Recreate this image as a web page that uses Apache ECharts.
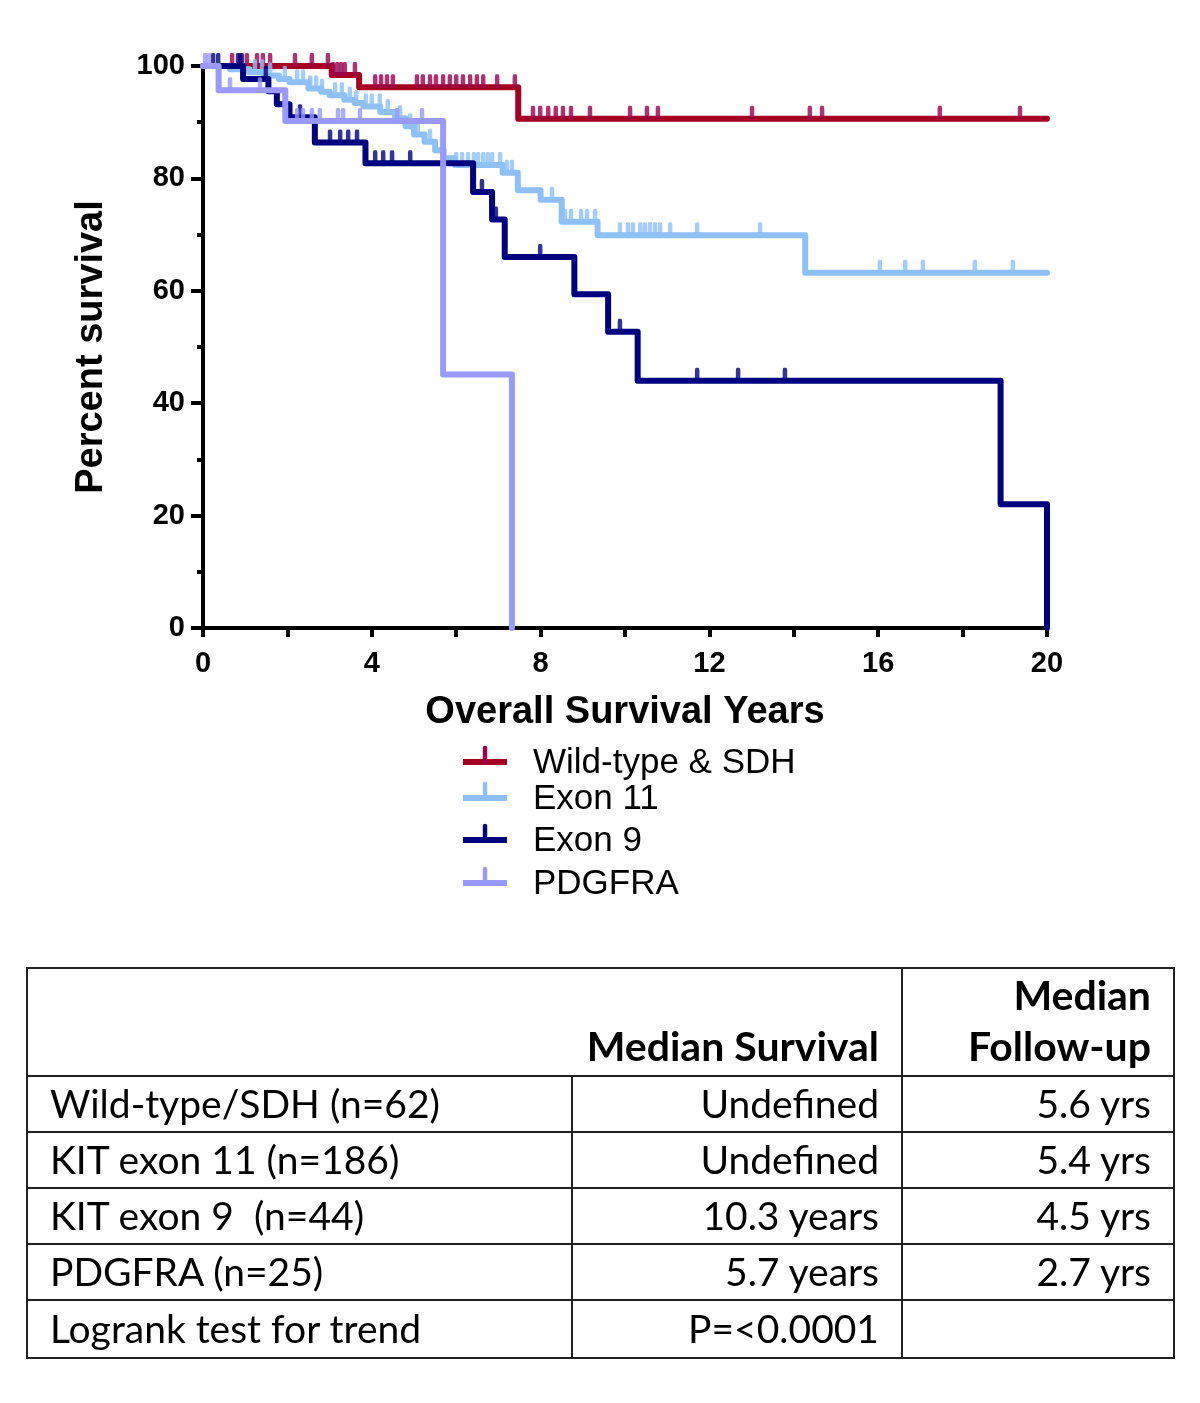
<!DOCTYPE html>
<html>
<head>
<meta charset="utf-8">
<script src="https://cdn.jsdelivr.net/npm/echarts@6/dist/echarts.min.js"></script>
<style>
html,body{margin:0;padding:0;background:#fff;}
#chart{position:absolute;left:0;top:0;width:1200px;height:1403px;}
#tbl{position:absolute;left:26px;top:967px;width:1147px;border-collapse:collapse;font-family:Lato,'Open Sans',sans-serif;font-size:39px;color:#000;table-layout:fixed;}
#tbl td,#tbl th{border:2px solid #222;padding:0 22px;line-height:1.1;white-space:nowrap;}
#tbl th{font-weight:bold;font-size:41px;text-align:right;vertical-align:bottom;padding-bottom:3px;line-height:1.25;}
#tbl td{height:54px;}
#tbl td.num{text-align:right;}
</style>
</head>
<body>
<div id="chart"></div>
<table id="tbl"></table>
<script>
// ---- data ----
const xTickLabels = [0, 4, 8, 12, 16, 20];
const yTickLabels = [0, 20, 40, 60, 80, 100];

const groupNames = ['Wild-type & SDH', 'Exon 11', 'Exon 9', 'PDGFRA'];

// Kaplan-Meier steps: [time (years), percent survival after event]
const wildTypeSteps = [[0,100],[3.05,98.4],[3.7,96.2],[7.47,90.6],[20,90.6]];
const exon11Steps = [[0,100],[0.64,99.4],[1.1,98.9],[1.45,98.3],[1.8,97.7],[2.05,97.1],[2.5,96.0],[2.8,95.4],[3.0,94.8],[3.35,94.0],[3.6,93.4],[3.8,92.8],[4.2,91.8],[4.55,90.7],[4.8,89.3],[5.0,87.8],[5.25,86.5],[5.5,85.0],[5.7,83.6],[5.97,82.4],[7.1,81.0],[7.46,77.9],[8.0,76.2],[8.5,72.3],[9.35,69.9],[14.27,63.2],[20,63.2]];
const exon9Steps = [[0,100],[0.95,97.7],[1.55,95.5],[1.75,93.2],[2.05,90.9],[2.65,86.4],[3.85,82.7],[6.4,77.6],[6.85,72.7],[7.15,66.0],[8.8,59.4],[9.6,52.7],[10.3,44.0],[18.9,22.0],[20,0]];
const pdgfraSteps = [[0,100],[0.37,95.7],[1.95,90.2],[5.69,45.1],[7.32,0]];

// censored observation times (years)
const wildTypeCensored = [0.69,0.88,1.04,1.28,1.42,1.59,2.18,2.58,2.96,3.08,3.18,3.27,3.36,3.60,4.08,4.22,4.36,4.50,5.07,5.21,5.38,5.52,5.69,5.85,6.00,6.16,6.33,6.49,6.64,6.97,7.39,7.82,7.99,8.18,8.36,8.53,8.72,9.17,10.12,10.52,10.78,13.01,14.38,14.67,17.46,19.36];
const exon11Censored = [1.23,1.40,1.59,1.94,2.23,2.37,2.54,2.68,2.82,3.13,3.29,3.48,3.63,3.86,4.00,4.19,4.38,4.67,4.91,5.09,5.38,6.00,6.14,6.28,6.42,6.52,6.64,6.75,6.85,7.04,7.20,7.32,8.27,8.58,8.72,8.96,9.10,9.29,9.88,10.07,10.19,10.36,10.47,10.59,10.71,10.83,11.07,11.71,13.20,16.04,16.64,17.06,18.29,19.19];
const exon9Censored = [0.24,0.36,0.83,0.92,1.49,2.30,3.01,3.25,3.44,3.65,4.08,4.27,4.48,4.91,6.61,6.94,7.99,9.88,11.71,12.68,13.79];
const pdgfraCensored = [0.05,0.14,0.64,1.35,2.23,2.37,2.58,2.77,3.20,3.32,3.72,4.60,5.19];

// table
const tableHeader = ['', 'Median Survival', 'Median<br>Follow-up'];
const tableLabels = ['Wild-type/SDH (n=62)', 'KIT exon 11 (n=186)', 'KIT exon 9&nbsp; (n=44)', 'PDGFRA (n=25)', 'Logrank test for trend'];
const tableMedianSurvival = ['Undefined', 'Undefined', '10.3 years', '5.7 years', 'P=&lt;0.0001'];
const tableFollowUp = ['5.6 yrs', '5.4 yrs', '4.5 yrs', '2.7 yrs', ''];

// ---- styling ----
const lineColors = ['#A50021', '#8EC0F6', '#000080', '#9999FF'];
const tickColors = ['#9B0050', '#8EC0F6', '#000080', '#9999FF'];

function survAt(steps, t) {
  let s = steps[0][1];
  for (const p of steps) { if (p[0] <= t) s = p[1]; else break; }
  return s;
}

const allSteps = [wildTypeSteps, exon11Steps, exon9Steps, pdgfraSteps];
const allCens = [wildTypeCensored, exon11Censored, exon9Censored, pdgfraCensored];

const series = [];
allSteps.forEach((steps, i) => {
  series.push({
    name: groupNames[i], type: 'line', step: 'end', data: steps,
    showSymbol: false, clip: false, z: 2 + i * 2,
    lineStyle: { color: lineColors[i], width: 6, cap: 'round', join: 'round' },
    itemStyle: { color: lineColors[i] }
  });
  series.push({
    name: groupNames[i] + ' censored', type: 'scatter',
    data: allCens[i].map(t => [t, survAt(steps, t)]),
    symbol: 'roundRect', symbolSize: [4.5, 14], symbolOffset: [0, -6],
    clip: false, z: 3 + i * 2,
    itemStyle: { color: tickColors[i] }
  });
});

// legend drawn as graphic
const legendRows = [762, 798, 840, 883];
const legendGraphics = [];
groupNames.forEach((n, i) => {
  const y = legendRows[i];
  legendGraphics.push({ type: 'line', shape: { x1: 463, y1: y, x2: 507, y2: y }, style: { stroke: lineColors[i], lineWidth: 6 } });
  legendGraphics.push({ type: 'line', shape: { x1: 485, y1: y - 14, x2: 485, y2: y }, style: { stroke: tickColors[i], lineWidth: 4.5, lineCap: 'round' } });
  legendGraphics.push({ type: 'text', x: 533, y: y + 1, style: { text: n, font: '35px "Liberation Sans", Arial, sans-serif', fill: '#000', textVerticalAlign: 'middle' } });
});

const fontFam = '"Liberation Sans", Arial, sans-serif';

const chart = echarts.init(document.getElementById('chart'), null, { renderer: 'canvas' });
chart.setOption({
  animation: false,
  backgroundColor: '#fff',
  grid: { left: 203, top: 66, width: 844, height: 562, containLabel: false },
  xAxis: {
    type: 'value', min: 0, max: 20, interval: 4,
    axisLine: { show: true, onZero: false, lineStyle: { color: '#000', width: 4 } },
    axisTick: { show: true, length: 9, lineStyle: { color: '#000', width: 4 } },
    minorTick: { show: true, splitNumber: 2, length: 9, lineStyle: { color: '#000', width: 4 } },
    splitLine: { show: false },
    axisLabel: { margin: 21, fontSize: 29, fontWeight: 'bold', color: '#000', fontFamily: fontFam, formatter: v => xTickLabels.includes(v) ? String(v) : '' },
    name: 'Overall Survival Years', nameLocation: 'middle', nameGap: 66,
    nameTextStyle: { fontSize: 38, fontWeight: 'bold', color: '#000', fontFamily: fontFam }
  },
  yAxis: {
    type: 'value', min: 0, max: 100, interval: 20,
    axisLine: { show: true, onZero: false, lineStyle: { color: '#000', width: 4 } },
    axisTick: { show: true, length: 12, lineStyle: { color: '#000', width: 4 } },
    minorTick: { show: true, splitNumber: 2, length: 6, lineStyle: { color: '#000', width: 4 } },
    splitLine: { show: false },
    axisLabel: { margin: 18, fontSize: 29, fontWeight: 'bold', color: '#000', fontFamily: fontFam, formatter: v => yTickLabels.includes(v) ? String(v) : '' },
    name: 'Percent survival', nameLocation: 'middle', nameGap: 92,
    nameTextStyle: { fontSize: 38, fontWeight: 'bold', color: '#000', fontFamily: fontFam }
  },
  graphic: legendGraphics,
  series: series
});

// build the table
const tbl = document.getElementById('tbl');
let html = '<colgroup><col style="width:545px"><col style="width:330px"><col style="width:272px"></colgroup>';
html += '<tr><th colspan="2" style="height:100px">' + tableHeader[1] + '</th><th>' + tableHeader[2] + '</th></tr>';
tableLabels.forEach((lab, i) => {
  const h = i === tableLabels.length - 1 ? 'style="height:56px"' : '';
  html += '<tr><td ' + h + '>' + lab + '</td><td class="num">' + tableMedianSurvival[i] + '</td><td class="num">' + tableFollowUp[i] + '</td></tr>';
});
tbl.innerHTML = html;
</script>
</body>
</html>
